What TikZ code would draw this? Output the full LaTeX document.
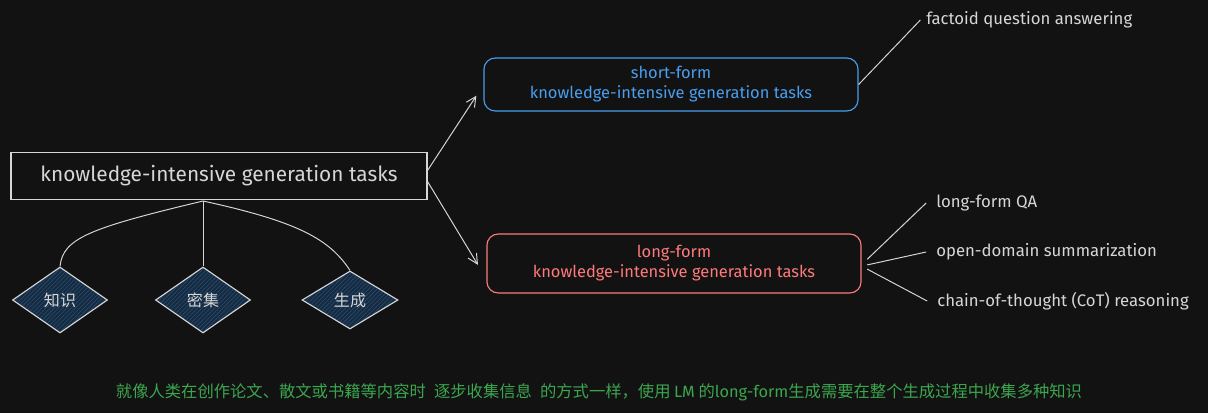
\documentclass[tikz,border=0pt]{standalone}
\usepackage{fontspec}
\setmainfont{Fira Sans}
\newfontfamily\cjk{Noto Sans CJK SC}
\usetikzlibrary{shapes.geometric,arrows.meta,patterns}
\definecolor{bg}{HTML}{121212}
\definecolor{ink}{HTML}{D6D6D6}
\definecolor{shortc}{HTML}{4A9EED}
\definecolor{longc}{HTML}{FF7A7A}
\definecolor{navy}{HTML}{172B40}
\definecolor{hatch}{HTML}{264C72}
\definecolor{note}{HTML}{3BA64E}

\begin{document}
\begin{tikzpicture}[x=0.025cm,y=-0.025cm,>={Straight Barb[length=7pt,width=7pt]},
    task/.style={draw,line width=0.8pt,rounded corners=8pt,minimum width=9.35cm,align=center,font=\fontsize{11.7}{14.2}\selectfont},
    facet/.style={shape=diamond,draw=ink,line width=0.8pt,minimum width=2.375cm,minimum height=1.65cm,inner sep=0pt,text=ink,font=\cjk\fontsize{11.4}{13}\selectfont,preaction={fill=navy},pattern=north east lines,pattern color=hatch},
    kind/.style={anchor=west,text=ink,inner sep=0pt,font=\fontsize{11.9}{14}\selectfont}]
      \fill[bg] (0,0) rectangle (1208,413);
      \useasboundingbox (0,0) rectangle (1208,413);
      % the task and its two forms
      \node[draw=ink,line width=0.8pt,minimum width=10.4cm,minimum height=1.175cm,text=ink,font=\fontsize{14.8}{17}\selectfont] (main) at (219,176) {knowledge-intensive generation tasks};
      \node[task,draw=shortc,text=shortc,minimum height=1.325cm] (short) at (671,84.5) {short-form\\knowledge-intensive generation tasks};
      \node[task,draw=longc,text=longc,minimum height=1.475cm] (long) at (674,263.5) {long-form\\knowledge-intensive generation tasks};
      \draw[->,ink,line width=0.7pt] ([yshift=4pt]main.east) -- ([xshift=-5pt,yshift=-8pt]short.west);
      \draw[->,ink,line width=0.7pt] ([yshift=-4pt]main.east) -- ([xshift=-6pt,yshift=-1pt]long.west);
      % facets under the task
      \node[facet] (zhi) at (60,300) {知识};
      \node[facet] (mi) at (203,300) {密集};
      \node[facet,minimum width=2.4cm,minimum height=1.45cm] (sheng) at (350,300) {生成};
      \coordinate (hub) at (203,201);
      \draw[ink,line width=0.7pt] (hub) .. controls (90,228) and (63,238) .. (zhi.north);
      \draw[ink,line width=0.7pt] (hub) -- (mi.north);
      \draw[ink,line width=0.7pt] (hub) .. controls (300,222) and (330,240) .. (sheng.north);
      % examples of each form
      \node[kind] (factoid) at (926,20) {factoid question answering};
      \node[kind] (lfqa) at (936,203) {long-form QA};
      \node[kind] (odsum) at (936,252) {open-domain summarization};
      \node[kind] (cot) at (937,301) {chain-of-thought (CoT) reasoning};
      \draw[ink,line width=0.7pt] (short.east) -- ([xshift=-4pt]factoid.west);
      \foreach \lbl/\dy in {lfqa/3,odsum/-1,cot/-4}
        \draw[ink,line width=0.7pt] ([xshift=4pt,yshift=\dy pt]long.east) -- ([xshift=-7pt]\lbl.west);
      \node[text=note,font=\cjk\fontsize{11.6}{14}\selectfont] (note) at (599,392) {就像人类在创作论文、散文或书籍等内容时\hspace{0.5em}逐步收集信息\hspace{0.5em}的方式一样，使用 {\rmfamily LM} 的{\rmfamily long-form}生成需要在整个生成过程中收集多种知识};
\end{tikzpicture}
\end{document}
